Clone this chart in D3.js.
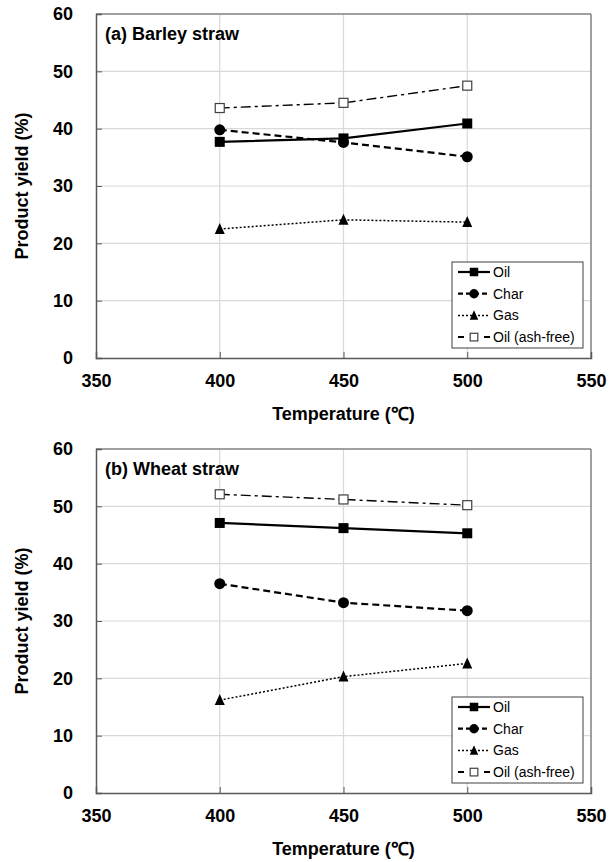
<!DOCTYPE html>
<html>
<head>
<meta charset="utf-8">
<script src="https://cdn.jsdelivr.net/npm/d3@7"></script>
<style>
  body { margin: 0; background: #fff; }
  text { font-family: "Liberation Sans", Arial, sans-serif; }
</style>
</head>
<body>
<script>
// data
var temps = [400, 450, 500];
var xTicks = [350, 400, 450, 500, 550];
var yTicks = [0, 10, 20, 30, 40, 50, 60];
var seriesNames = ["Oil", "Char", "Gas", "Oil (ash-free)"];

var barleyOil = [37.7, 38.3, 40.9];
var barleyChar = [39.8, 37.6, 35.1];
var barleyGas = [22.5, 24.1, 23.7];
var barleyAshFree = [43.6, 44.5, 47.5];

var wheatOil = [47.1, 46.2, 45.3];
var wheatChar = [36.5, 33.2, 31.8];
var wheatGas = [16.2, 20.3, 22.6];
var wheatAshFree = [52.1, 51.2, 50.2];

// styles per series
var styles = [
  { dash: null, width: 2.2, marker: "square" },
  { dash: "7,4", width: 2.2, marker: "circle" },
  { dash: "2,2", width: 1.5, marker: "triangle" },
  { dash: "10,4,3,4", width: 1.4, marker: "open" }
];

var width = 609, height = 862;

var svg = d3.select("body").append("svg")
    .attr("width", width)
    .attr("height", height);

function drawPanel(top, title, values) {
  var left = 96, right = 591, bottom = top + 344;

  var x = d3.scaleLinear().domain([350, 550]).range([left, right]);
  var y = d3.scaleLinear().domain([0, 60]).range([bottom, top]);

  var g = svg.append("g");

  // grid
  g.selectAll(".hgrid").data(yTicks.filter(d => d > 0 && d < 60)).enter()
    .append("line")
    .attr("x1", left).attr("x2", right)
    .attr("y1", d => y(d)).attr("y2", d => y(d))
    .attr("stroke", "#d9d9d9").attr("stroke-width", 1.2);

  g.selectAll(".vgrid").data(xTicks.filter(d => d > 350 && d < 550)).enter()
    .append("line")
    .attr("x1", d => x(d)).attr("x2", d => x(d))
    .attr("y1", top).attr("y2", bottom)
    .attr("stroke", "#d9d9d9").attr("stroke-width", 1.2);

  // frame
  g.append("line").attr("x1", left).attr("x2", right).attr("y1", top).attr("y2", top)
    .attr("stroke", "#808080").attr("stroke-width", 1.5);
  g.append("line").attr("x1", right).attr("x2", right).attr("y1", top).attr("y2", bottom)
    .attr("stroke", "#808080").attr("stroke-width", 1.5);

  // axes
  var yAxis = d3.axisLeft(y).tickValues(yTicks).tickSize(-6).tickPadding(23);
  var ya = g.append("g").attr("transform", "translate(" + left + ",0)").call(yAxis);
  ya.select(".domain").attr("stroke", "#595959").attr("stroke-width", 1.5);
  ya.selectAll(".tick line").attr("stroke", "#595959");
  ya.selectAll(".tick text")
    .style("font-size", "18px").style("font-weight", "bold").attr("fill", "#000");

  var xAxis = d3.axisBottom(x).tickValues(xTicks).tickSize(-6).tickPadding(16);
  var xa = g.append("g").attr("transform", "translate(0," + bottom + ")").call(xAxis);
  xa.select(".domain").attr("stroke", "#595959").attr("stroke-width", 1.5);
  xa.selectAll(".tick line").attr("stroke", "#595959");
  xa.selectAll(".tick text")
    .style("font-size", "18px").style("font-weight", "bold").attr("fill", "#000");

  // axis titles
  g.append("text")
    .attr("x", (left + right) / 2).attr("y", bottom + 62)
    .attr("text-anchor", "middle")
    .style("font-size", "18px").style("font-weight", "bold")
    .text("Temperature (℃)");

  g.append("text")
    .attr("transform", "translate(28," + ((top + bottom) / 2) + ") rotate(-90)")
    .attr("text-anchor", "middle")
    .style("font-size", "18px").style("font-weight", "bold")
    .text("Product yield (%)");

  // panel title
  g.append("text")
    .attr("x", left + 9).attr("y", top + 26)
    .style("font-size", "18px").style("font-weight", "bold")
    .text(title);

  // series
  var line = d3.line().x((d, i) => x(temps[i])).y(d => y(d));
  values.forEach(function(vals, k) {
    var st = styles[k];
    g.append("path")
      .attr("d", line(vals))
      .attr("fill", "none")
      .attr("stroke", "#000")
      .attr("stroke-width", st.width)
      .attr("stroke-dasharray", st.dash);
    vals.forEach(function(v, i) {
      drawMarker(g, st.marker, x(temps[i]), y(v), 1);
    });
  });

  // legend
  var lx = 452, ly = bottom - 96, lw = 131, lh = 86;
  var leg = g.append("g");
  leg.append("rect")
    .attr("x", lx).attr("y", ly).attr("width", lw).attr("height", lh)
    .attr("fill", "#fff").attr("stroke", "#404040").attr("stroke-width", 1);
  seriesNames.forEach(function(name, k) {
    var st = styles[k];
    var cy = ly + 10 + k * 21.7;
    leg.append("line")
      .attr("x1", lx + 6).attr("x2", lx + 38)
      .attr("y1", cy).attr("y2", cy)
      .attr("stroke", "#000").attr("stroke-width", k == 3 ? 2 : st.width)
      .attr("stroke-dasharray", k == 3 ? "6,20,6" : (k == 1 ? "5,3" : st.dash));
    drawMarker(leg, st.marker, lx + 22, cy, 0.85);
    leg.append("text")
      .attr("x", lx + 41).attr("y", cy + 5)
      .style("font-size", "14px")
      .text(name);
  });
}

function drawMarker(g, type, cx, cy, s) {
  if (type == "square") {
    var a = 10 * s;
    g.append("rect").attr("x", cx - a / 2).attr("y", cy - a / 2)
      .attr("width", a).attr("height", a).attr("fill", "#000");
  } else if (type == "circle") {
    g.append("circle").attr("cx", cx).attr("cy", cy).attr("r", 5.5 * s).attr("fill", "#000");
  } else if (type == "triangle") {
    var h = 10 * s;
    g.append("path")
      .attr("d", "M" + cx + "," + (cy - h / 2 - 1) + "L" + (cx + h / 2) + "," + (cy + h / 2) +
        "L" + (cx - h / 2) + "," + (cy + h / 2) + "Z")
      .attr("fill", "#000");
  } else {
    var b = 9 * s;
    g.append("rect").attr("x", cx - b / 2).attr("y", cy - b / 2)
      .attr("width", b).attr("height", b)
      .attr("fill", "#fff").attr("stroke", "#404040").attr("stroke-width", 1.2);
  }
}

drawPanel(14, "(a) Barley straw", [barleyOil, barleyChar, barleyGas, barleyAshFree]);
drawPanel(449, "(b) Wheat straw", [wheatOil, wheatChar, wheatGas, wheatAshFree]);
</script>
</body>
</html>
